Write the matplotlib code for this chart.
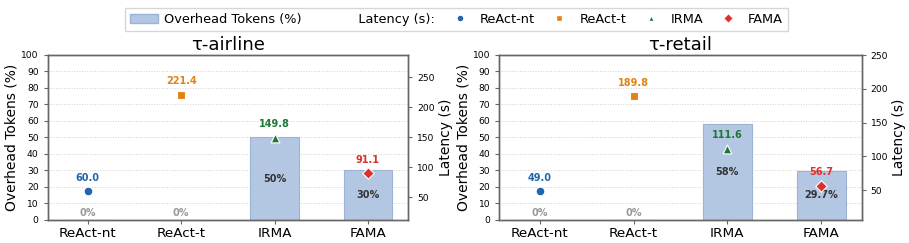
import matplotlib
matplotlib.use("Agg")
import matplotlib.pyplot as plt
from matplotlib.patches import Patch
from matplotlib.lines import Line2D

methods = ['ReAct-nt', 'ReAct-t', 'IRMA', 'FAMA']
datasets = ['τ-airline', 'τ-retail']

overhead = {
    'τ-airline': [0, 0, 50, 30],
    'τ-retail': [0, 0, 58, 29.7],
}
overhead_labels = {
    'τ-airline': ['0%', '0%', '50%', '30%'],
    'τ-retail': ['0%', '0%', '58%', '29.7%'],
}
latency = {
    'τ-airline': [60.0, 221.4, 149.8, 91.1],
    'τ-retail': [49.0, 189.8, 111.6, 56.7],
}
latency_lim = {
    'τ-airline': (12.5, 288),
    'τ-retail': (5.8, 251),
}

markers = ['o', 's', '^', 'D']
colors = ['#2166ac', '#e08214', '#1b7837', '#e0302a']
bar_color = '#b4c7e2'
bar_edge = '#9bb3d4'
spine_color = '#666666'

fig = plt.figure(figsize=(9.09, 2.43), dpi=100)
rects = [[0.0525, 0.0947, 0.3964, 0.681], [0.5493, 0.0947, 0.3985, 0.681]]

x = list(range(len(methods)))
for rect, name in zip(rects, datasets):
    ax = fig.add_axes(rect)
    ax2 = ax.twinx()

    ax.bar(x, overhead[name], width=0.52, color=bar_color, edgecolor=bar_edge,
           linewidth=0.8, zorder=2)
    for xi, v, lab in zip(x, overhead[name], overhead_labels[name]):
        if v == 0:
            ax.text(xi, 4, lab, ha='center', va='center', fontsize=7,
                    fontweight='bold', color='#999999', zorder=5)
        else:
            ax.text(xi, v / 2, lab, ha='center', va='center', fontsize=7,
                    fontweight='bold', color='#333333', zorder=5)

    for xi, val, m, c in zip(x, latency[name], markers, colors):
        ax2.scatter(xi, val, marker=m, s=40 if m != 'D' else 34, color=c,
                    edgecolor='white', linewidth=0.8, zorder=6)
        ax2.annotate(f'{val:.1f}', (xi, val), xytext=(0, 9.5),
                     textcoords='offset points', ha='center', va='center',
                     fontsize=7, fontweight='bold', color=c)

    ax.set_ylim(0, 100)
    ax.set_yticks(range(0, 101, 10))
    ax.set_xlim(-0.43, 3.43)
    ax.set_xticks(x)
    ax.set_xticklabels(methods, fontsize=9.7)
    ax.tick_params(axis='y', labelsize=6.6, length=3, color=spine_color)
    ax.tick_params(axis='x', length=3, color=spine_color, pad=2)
    ax.set_ylabel('Overhead Tokens (%)', fontsize=10, labelpad=2)
    ax.grid(axis='y', linestyle=':', color='#d0d0d0', linewidth=0.7, zorder=0)
    ax.set_axisbelow(True)
    ax.set_title(name, fontsize=13, pad=3)

    ax2.set_ylim(*latency_lim[name])
    ax2.set_yticks([50, 100, 150, 200, 250])
    ax2.tick_params(axis='y', labelsize=6.6, length=3, color=spine_color)
    ax2.set_ylabel('Latency (s)', fontsize=10, labelpad=3)

    for a in (ax, ax2):
        for sp in a.spines.values():
            sp.set_color(spine_color)
            sp.set_linewidth(1)

handles = [Patch(facecolor=bar_color, edgecolor=bar_edge),
           Line2D([], [], linestyle='none')]
labels = ['Overhead Tokens (%)', '   Latency (s):']
for m, c, meth in zip(markers, colors, methods):
    handles.append(Line2D([], [], marker=m, linestyle='none', color=c,
                          markeredgecolor='white', markersize=5))
    labels.append(meth)

fig.legend(handles, labels, ncol=6, loc='upper center',
           bbox_to_anchor=(0.502, 0.995), fontsize=9.3, frameon=True,
           handlelength=2.2, handletextpad=0.45, columnspacing=0.8,
           borderpad=0.4, edgecolor='#cccccc', fancybox=False)

fig.savefig('out.png', dpi=100)
